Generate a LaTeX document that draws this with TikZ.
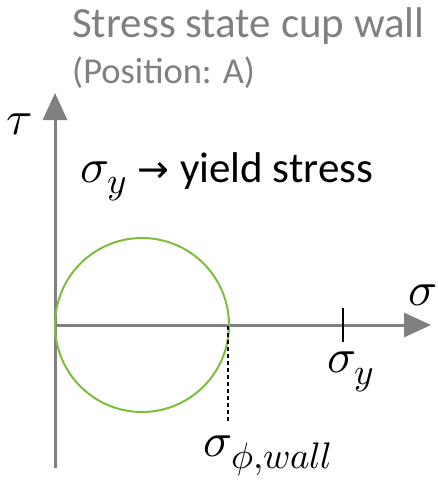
\documentclass[tikz,border=0pt]{standalone}
\usepackage{fontspec}
\usepackage{unicode-math}
\setmainfont{Carlito}
\setmathfont{Latin Modern Math}
\newfontfamily\arrowfont{DejaVu Sans}
\usetikzlibrary{arrows.meta}
\definecolor{axisgray}{RGB}{128,128,128}
\definecolor{titlegray}{RGB}{128,128,128}
\definecolor{circgreen}{RGB}{124,190,60}
\DeclareMathSizes{48}{48}{37}{28}
\tikzset{
  axisline/.style={draw=axisgray, line width=3pt, -{Triangle[length=27pt,width=24pt]}},
  mathtext/.style={inner sep=0pt, font=\fontsize{48}{54}\selectfont},
  titletext/.style={inner sep=0pt, text=titlegray, anchor=base west},
}
\begin{document}
\begin{tikzpicture}[x=1pt,y=-1pt]
\useasboundingbox (0,0) rectangle (437,485);
% axes
\coordinate (o) at (55,325);
\coordinate (ybot) at (55,468);
\coordinate (ytop) at (55,93);
\coordinate (xend) at (431,325);
\draw[axisline] (ybot) -- (ytop);
\draw[axisline] (o) -- (xend);
% circle
\node[draw=circgreen, line width=2pt, circle, minimum size=174pt, inner sep=0pt] (mohr) at (142,325) {};
% tick
\coordinate (tickt) at (343,308);
\coordinate (tickb) at (343,342);
\draw[line width=2pt] (tickt) -- (tickb);
% dashed
\coordinate (dtop) at (228,326);
\coordinate (dbot) at (228,423);
\draw[line width=1.3pt, dash pattern=on 4pt off 3pt] (dtop) -- (dbot);
% labels
\node[titletext, font=\fontsize{43}{50}\selectfont] (title) at (72,37) {Stress state cup wall};
\node[titletext, font=\fontsize{36.5}{44}\selectfont] (pos) at (72,83) {(Position: A)};
\node[mathtext] (tau) at (19,124) {$\tau$};
\node[inner sep=0pt, anchor=base west, font=\fontsize{43}{50}\selectfont] (yield) at (80,182)
  {{\fontsize{48}{54}\selectfont$\sigma_y$}\hspace{10pt}{\arrowfont\fontsize{38}{44}\selectfont →}\hspace{11pt}yield stress};
\node[mathtext] (sig) at (423,295) {$\sigma$};
\node[mathtext] (sigy) at (351,372) {$\sigma_y$};
\node[mathtext] (sigphi) at (268,456) {$\sigma_{\phi,wall}$};
\end{tikzpicture}
\end{document}
